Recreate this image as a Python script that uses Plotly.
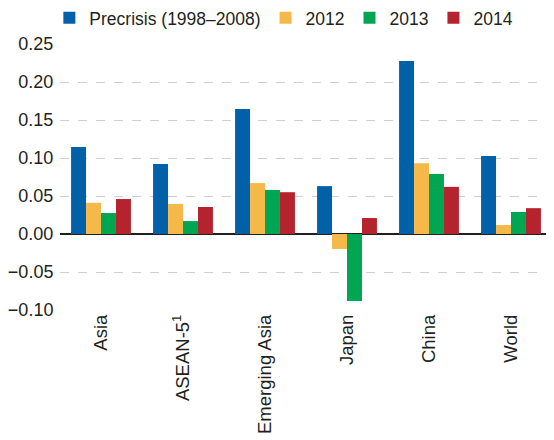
import plotly.graph_objects as go

categories = ["Asia", "ASEAN-5<sup>1</sup>", "Emerging Asia", "Japan", "China", "World"]
series_names = ["Precrisis (1998–2008)", "2012", "2013", "2014"]
precrisis = [0.1145, 0.092, 0.1645, 0.063, 0.2276, 0.1026]
y2012 = [0.041, 0.0395, 0.067, -0.0197, 0.093, 0.0118]
y2013 = [0.0276, 0.017, 0.058, -0.088, 0.079, 0.029]
y2014 = [0.046, 0.0355, 0.055, 0.021, 0.062, 0.034]
colors = ["#0061A8", "#F5B94A", "#00A651", "#B5232E"]
tick_vals = [-0.10, -0.05, 0.00, 0.05, 0.10, 0.15, 0.20, 0.25]

fig = go.Figure()
for name, vals, col in zip(series_names, [precrisis, y2012, y2013, y2014], colors):
    fig.add_trace(go.Bar(x=categories, y=vals, name=name, marker_color=col,
                         marker_line_width=0))

fig.update_layout(
    width=546, height=432,
    margin=dict(l=52, r=2, t=36, b=130, autoexpand=False),
    paper_bgcolor="white", plot_bgcolor="white",
    font=dict(family="Liberation Sans, Arial, sans-serif", size=18, color="#231F20"),
    barmode="group", bargap=0.27, bargroupgap=0,
    legend=dict(orientation="h", x=0.455, xanchor="center", y=1.098, yanchor="middle",
                font=dict(size=17.5), itemwidth=30, tracegroupgap=0,
                traceorder="normal", bgcolor="rgba(0,0,0,0)"),
    showlegend=True,
)
fig.update_yaxes(range=[-0.1, 0.25], tickvals=tick_vals, tickformat=".2f",
                 showgrid=True, gridcolor="#CFCFCF", griddash="dash", gridwidth=1,
                 zeroline=True, zerolinecolor="#231F20", zerolinewidth=1.5,
                 showline=False, ticks="outside", ticklen=2, tickcolor="rgba(0,0,0,0)",
                 tickfont=dict(size=18))
fig.update_xaxes(tickangle=-90, showline=False, showgrid=False, ticks="",
                 tickfont=dict(size=18.5))

fig.write_html("out.html")
